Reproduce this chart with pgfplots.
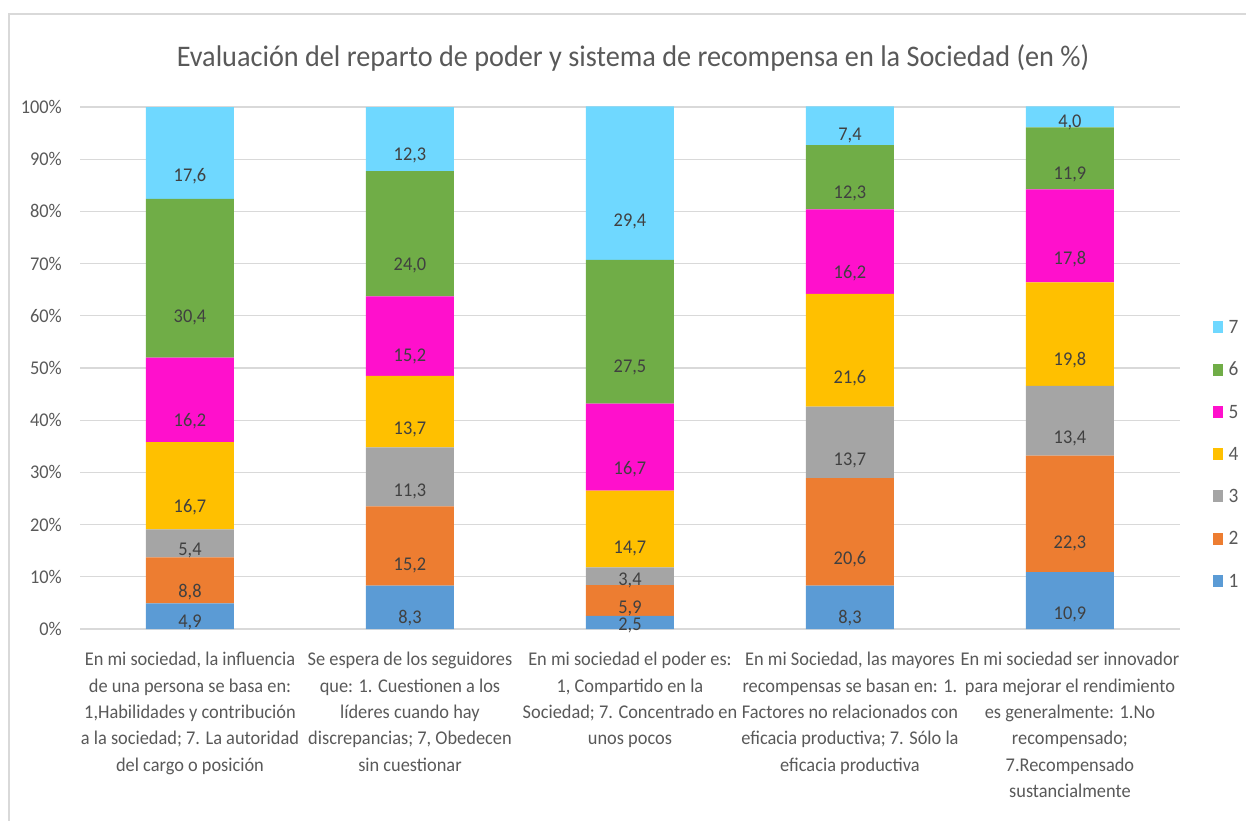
\documentclass[border=0pt]{standalone}
\usepackage{pgfplots}
\pgfplotsset{compat=1.18}
\usepackage{fontspec}
\setmainfont{Carlito}[FakeStretch=0.945]
\definecolor{c1}{HTML}{5B9BD5}
\definecolor{c2}{HTML}{ED7D31}
\definecolor{c3}{HTML}{A5A5A5}
\definecolor{c4}{HTML}{FFC000}
\definecolor{c5}{HTML}{FF10CC}
\definecolor{c6}{HTML}{70AD47}
\definecolor{c7}{HTML}{6FD8FF}
\definecolor{gridgray}{HTML}{D9D9D9}
\definecolor{tgray}{HTML}{595959}
\definecolor{lgray}{HTML}{404040}
\pgfplotsset{
  mycalc/.code={\pgfkeys{/pgf/fpu=true,/pgf/fpu/output format=fixed}\pgfmathparse{\pgfplotspointmeta*1.305}\global\let\myoff\pgfmathresult\pgfkeys{/pgf/fpu=false}},
  myleg/.style={legend image code/.code={\fill[##1,draw=none] (0bp,-6bp) rectangle (9.5bp,6bp);}},
}
\newcommand{\lab}{\fontsize{19.5}{26.5}\selectfont}
\begin{document}
\begin{tikzpicture}
\useasboundingbox (0bp,0bp) rectangle (1246bp,-821bp);
\draw[color=gridgray, line width=2bp] (9bp,-821bp) -- (9bp,-14bp) -- (1246bp,-14bp);
\node[font=\fontsize{30}{36}\selectfont, text=tgray] at (633bp,-58bp) {Evaluación del reparto de poder y sistema de recompensa en la Sociedad (en \%)};
\begin{axis}[
  at={(80bp,-629bp)}, anchor=south west,
  scale only axis, width=1100bp, height=522bp,
  ybar stacked, bar width=88bp,
  xmin=-0.5, xmax=4.5, ymin=0, ymax=100,
  xtick={0,1,2,3,4},
  xticklabels={
    {En mi sociedad, la influencia\\de una persona se basa en:\\1,Habilidades y contribución\\a la sociedad; 7. La autoridad\\del cargo o posición},
    {Se espera de los seguidores\\que: 1. Cuestionen a los\\líderes cuando hay\\discrepancias; 7, Obedecen\\sin cuestionar},
    {En mi sociedad el poder es:\\1, Compartido en la\\Sociedad; 7. Concentrado en\\unos pocos},
    {En mi Sociedad, las mayores\\recompensas se basan en: 1.\\Factores no relacionados con\\eficacia productiva; 7. Sólo la\\eficacia productiva},
    {En mi sociedad ser innovador\\para mejorar el rendimiento\\es generalmente: 1.No\\recompensado;\\7.Recompensado\\sustancialmente}},
  ytick={0,10,...,100},
  yticklabel={\pgfmathprintnumber{\tick}\%},
  ymajorgrids, grid style={gridgray, line width=1.3bp},
  axis line style={draw=none}, major tick length=0pt,
  tick label style={font=\lab, text=tgray},
  xticklabel style={align=center, anchor=north, inner sep=0pt, yshift=-23bp},
  yticklabel style={anchor=east, inner sep=0pt, xshift=-18bp},
  /pgf/number format/assume math mode=true,
  clip=false,
  nodes near coords={\pgfmathprintnumber[fixed, fixed zerofill, precision=1, use comma]{\pgfplotspointmeta}},
  every node near coord/.append style={/pgfplots/mycalc, anchor=center, yshift=-\myoff bp, font=\lab, text=lgray, inner sep=0pt},
  reverse legend,
  legend style={at={(axis description cs:1.03,0.335)}, anchor=west, draw=none, fill=none, inner sep=0pt,
    font=\fontsize{20.5}{24}\selectfont, text=tgray, row sep=29.8bp,
    nodes={text height=12.5bp, text depth=0bp, inner sep=0pt},
    /tikz/every odd column/.append style={column sep=6bp}},
]
\addplot[fill=c1, draw=none, myleg] coordinates {(0,4.9) (1,8.3) (2,2.5) (3,8.3) (4,10.9)};
\addplot[fill=c2, draw=none, myleg] coordinates {(0,8.8) (1,15.2) (2,5.9) (3,20.6) (4,22.3)};
\addplot[fill=c3, draw=none, myleg] coordinates {(0,5.4) (1,11.3) (2,3.4) (3,13.7) (4,13.4)};
\addplot[fill=c4, draw=none, myleg] coordinates {(0,16.7) (1,13.7) (2,14.7) (3,21.6) (4,19.8)};
\addplot[fill=c5, draw=none, myleg] coordinates {(0,16.2) (1,15.2) (2,16.7) (3,16.2) (4,17.8)};
\addplot[fill=c6, draw=none, myleg] coordinates {(0,30.4) (1,24.0) (2,27.5) (3,12.3) (4,11.9)};
\addplot[fill=c7, draw=none, myleg] coordinates {(0,17.6) (1,12.3) (2,29.4) (3,7.4) (4,4.0)};
\legend{1,2,3,4,5,6,7}
\end{axis}
\end{tikzpicture}
\end{document}
